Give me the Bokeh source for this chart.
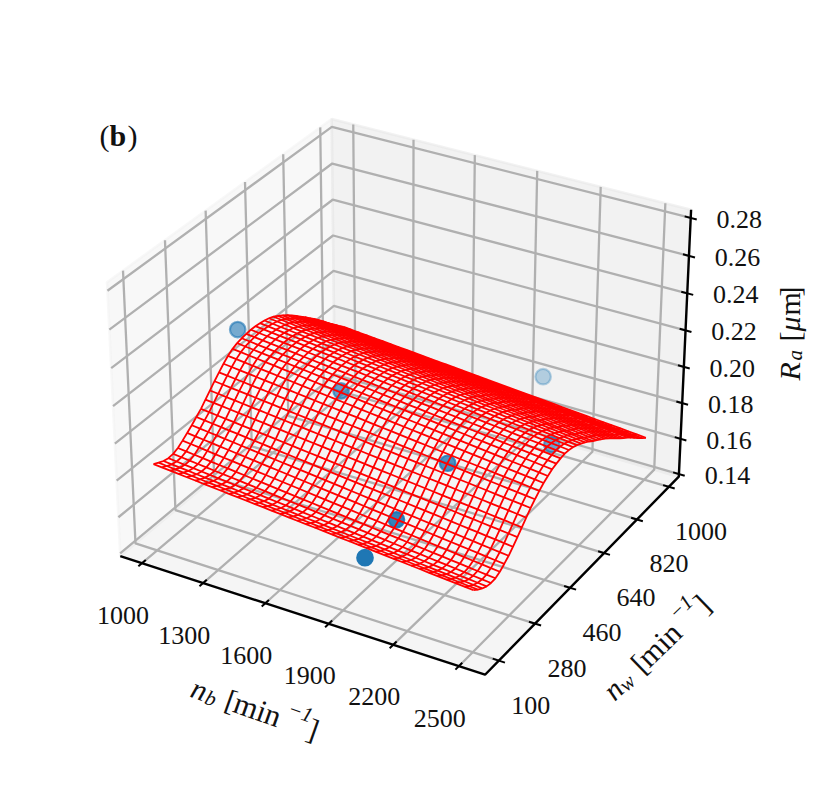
import numpy as np
from bokeh.plotting import figure
from bokeh.models import Range1d
from bokeh.core.properties import value
from bokeh.embed import file_html
from bokeh.resources import INLINE

# ---- data ----
nb_ticks = [1000, 1300, 1600, 1900, 2200, 2500]
nw_ticks = [100, 280, 460, 640, 820, 1000]
ra_ticks = [0.14, 0.16, 0.18, 0.20, 0.22, 0.24, 0.26, 0.28]
ra_tick_labels = ["0.14", "0.16", "0.18", "0.20", "0.22", "0.24", "0.26", "0.28"]
nb_limits = [891.6, 2618.0]
nw_limits = [33.0, 1057.0]
ra_limits = [0.1385, 0.2843]

point_nb = [2005, 1930, 1956, 1442, 2245, 1000, 2000]
point_nw = [100, 325, 550, 550, 775, 490, 1000]
point_ra = [0.171, 0.1652, 0.1742, 0.1967, 0.172, 0.2216, 0.1800]
point_alpha = [1.0, 0.9, 0.8, 0.68, 0.65, 0.6, 0.3]

# surface height along n_w (one value per mesh row) at the two n_b edges
ra_at_nb1000 = [
    .1860, .1846, .1834, .1828, .1830, .1841, .1860, .1881, .1902, .1926,
    .1950, .1980, .2009, .2039, .2067, .2094, .2117, .2135, .2146, .2153,
    .2157, .2160, .2160, .2157, .2152, .2145, .2134, .2119, .2102, .2084,
    .2063, .2041, .2018, .1995, .1971, .1947, .1921, .1895, .1867, .1841,
    .1815, .1789, .1764]
ra_at_nb2500 = [
    .1718, .1698, .1681, .1669, .1664, .1666, .1678, .1697, .1718, .1744,
    .1773, .1803, .1833, .1862, .1887, .1910, .1930, .1946, .1960, .1969,
    .1976, .1980, .1978, .1972, .1962, .1949, .1934, .1918, .1899, .1883,
    .1866, .1849, .1829, .1809, .1788, .1767, .1747, .1729, .1707, .1685,
    .1662, .1641, .1622]
n_columns = 38

# ---- matplotlib-style 3D view (elev 30, azim -60, perspective) ----
W, H = 816, 772
SX, SY, TX, TY = 3510.0, 3495.0, 404.2, 383.0
el, az = np.radians(30), np.radians(-60)
box = np.array([4.0, 4.0, 3.0]) * 1.8294640721620434 * 25 / 24 / np.sqrt(41)
w_dir = np.array([np.cos(el) * np.cos(az), np.cos(el) * np.sin(az), np.sin(el)])
eye = box / 2 + 10 * w_dir
u_dir = np.array([-w_dir[1], w_dir[0], 0.0])
u_dir /= np.linalg.norm(u_dir)
v_dir = np.cross(w_dir, u_dir)


def proj(x, y, z):
    x, y, z = np.broadcast_arrays(np.asarray(x, float), np.asarray(y, float), np.asarray(z, float))
    P = np.stack([
        (x - nb_limits[0]) / (nb_limits[1] - nb_limits[0]) * box[0],
        (y - nw_limits[0]) / (nw_limits[1] - nw_limits[0]) * box[1],
        (z - ra_limits[0]) / (ra_limits[1] - ra_limits[0]) * box[2],
    ], axis=-1) - eye
    depth = -(P @ w_dir)
    return TX + SX * (P @ u_dir) / depth, TY - SY * (P @ v_dir) / depth


x0, x1 = nb_limits
y0, y1 = nw_limits
z0, z1 = ra_limits
rx, ry = x1 - x0, y1 - y0

p = figure(width=W, height=H, x_range=Range1d(0, W), y_range=Range1d(H, 0),
           output_backend="svg", toolbar_location=None, min_border=0,
           background_fill_color="white", border_fill_color="white", outline_line_color=None)
p.xaxis.visible = False
p.yaxis.visible = False
p.grid.visible = False

# panes
panes = [
    ([x0, x0, x0, x0], [y0, y1, y1, y0], [z0, z0, z1, z1], "#f2f2f2"),
    ([x0, x1, x1, x0], [y1, y1, y1, y1], [z0, z0, z1, z1], "#e6e6e6"),
    ([x0, x1, x1, x0], [y0, y0, y1, y1], [z0, z0, z0, z0], "#ececec"),
]
for px_, py_, pz_, col in panes:
    sx_, sy_ = proj(px_, py_, pz_)
    p.patch(list(sx_), list(sy_), fill_color=col, fill_alpha=0.5,
            line_color=col, line_alpha=0.5, line_width=2.5)

# grid
gx, gy = [], []
for t in nb_ticks:
    a, b = proj([t, t, t], [y0, y1, y1], [z0, z0, z1])
    gx.append(list(a)); gy.append(list(b))
for t in nw_ticks:
    a, b = proj([x1, x0, x0], [t, t, t], [z0, z0, z1])
    gx.append(list(a)); gy.append(list(b))
for t in ra_ticks:
    a, b = proj([x0, x0, x1], [y0, y1, y1], [t, t, t])
    gx.append(list(a)); gy.append(list(b))
p.multi_line(gx, gy, line_color="#b0b0b0", line_width=2.3)

# axis lines and ticks
ax_, ay_ = proj([x0, x1, x1, x1], [y0, y0, y1, y1], [z0, z0, z0, z1])
p.line(list(ax_), list(ay_), line_color="black", line_width=2.4)
tx_, ty_ = [], []
d = 0.016
for t in nb_ticks:
    a, b = proj([t, t], [y0 - d * ry, y0 + d * ry], [z0, z0])
    tx_.append(list(a)); ty_.append(list(b))
for t in nw_ticks:
    a, b = proj([x1 + d * rx, x1 - d * rx], [t, t], [z0, z0])
    tx_.append(list(a)); ty_.append(list(b))
for t in ra_ticks:
    a, b = proj([x1 + d * rx, x1 - d * rx], [y1, y1], [t, t])
    tx_.append(list(a)); ty_.append(list(b))
p.multi_line(tx_, ty_, line_color="black", line_width=2.0)

# scatter
psx, psy = proj(point_nb, point_nw, point_ra)
p.scatter(list(psx), list(psy), size=15.5, fill_color="#1f77b4", line_color="#1f77b4",
          fill_alpha=point_alpha, line_alpha=point_alpha, line_width=2.2)

# wireframe
col_nb = np.linspace(1000, 2500, n_columns)
row_nw = np.linspace(100, 1000, len(ra_at_nb1000))
frac = (col_nb - 1000) / 1500
Z = np.array(ra_at_nb1000)[None, :] * (1 - frac)[:, None] + np.array(ra_at_nb2500)[None, :] * frac[:, None]
X, Y = np.meshgrid(col_nb, row_nw, indexing="ij")
sx, sy = proj(X, Y, Z)
wx = [list(sx[i, :]) for i in range(sx.shape[0])] + [list(sx[:, j]) for j in range(sx.shape[1])]
wy = [list(sy[i, :]) for i in range(sy.shape[0])] + [list(sy[:, j]) for j in range(sy.shape[1])]
p.multi_line(wx, wy, line_color="#ff0000", line_width=1.8)

# tick labels
FONT = value("Liberation Serif")
tick_size = "26px"
a, b = proj(nb_ticks, y0, z0)
p.text(list(a), list(b), text=[str(t) for t in nb_ticks], x_offset=-19, y_offset=52,
       text_font=FONT, text_font_size=tick_size, text_align="center", text_baseline="middle", text_color="#111111")
a, b = proj(x1, nw_ticks, z0)
p.text(list(a), list(b), text=[str(t) for t in nw_ticks], x_offset=32, y_offset=44.5,
       text_font=FONT, text_font_size=tick_size, text_align="center", text_baseline="middle", text_color="#111111")
a, b = proj(x1, y1, ra_ticks)
p.text(list(a), list(b), text=ra_tick_labels, x_offset=48.5, y_offset=1.5,
       text_font=FONT, text_font_size=tick_size, text_align="center", text_baseline="middle", text_color="#111111")


def label(start, angle_deg, pieces):
    """Write a label as pieces along a rotated baseline, angle counter-clockwise on screen."""
    a = np.radians(angle_deg)
    ex, ey = np.cos(a), -np.sin(a)
    nx, ny = -np.sin(a), -np.cos(a)
    for txt, style, size, adv, rise in pieces:
        p.text([start[0] + adv * ex + rise * nx], [start[1] + adv * ey + rise * ny], text=[txt],
               angle=a, text_font=FONT, text_font_style=style, text_font_size=f"{size}px",
               text_align="left", text_baseline="alphabetic", text_color="#111111")


label((192, 686), -19.5, [
    ("n", "italic", 30, 0, 0), ("b", "italic", 21, 16, -5), ("[", "normal", 30, 36, 0),
    ("min", "normal", 31, 45, 0), ("−1", "italic", 21, 98, 12), ("]", "normal", 30, 123, 0)])
label((607, 694), 44, [
    ("n", "italic", 30, 0, 0), ("w", "italic", 21, 15, -5), ("[", "normal", 30, 39, 0),
    ("min", "normal", 31, 48, 0), ("−1", "italic", 21, 101, 12), ("]", "normal", 30, 126, 0)])
label((789, 380), 90, [
    ("R", "italic", 30, 0, 0), ("a", "italic", 21, 20, -5), ("[", "normal", 30, 39, 0),
    ("μ", "italic", 30, 49, 0), ("m", "normal", 30, 65, 0), ("]", "normal", 30, 84, 0)])
label((99, 135), 0, [("(", "normal", 30, 0, 0), ("b", "bold", 30, 10, 0), (")", "normal", 30, 28, 0)])

open("out.html", "w").write(file_html(p, INLINE))
